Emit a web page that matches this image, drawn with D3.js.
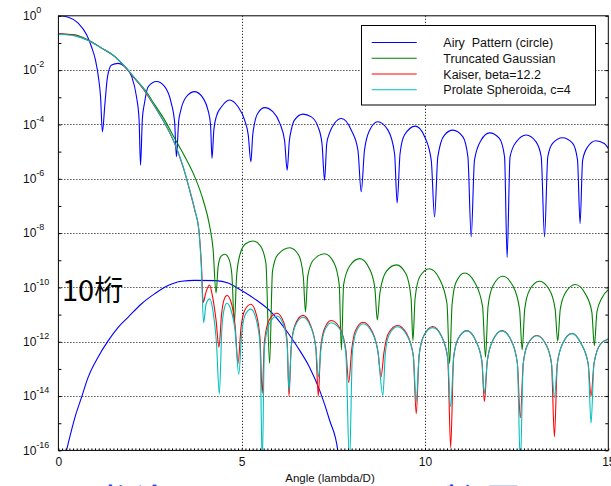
<!DOCTYPE html>
<html><head><meta charset="utf-8">
<script src="https://cdn.jsdelivr.net/npm/d3@7"></script>
<style>html,body{margin:0;padding:0;background:#fff;overflow:hidden}</style>
</head><body>
<script>
// Legend entries and line colours
const seriesNames = ["Airy  Pattern (circle)", "Truncated Gaussian", "Kaiser, beta=12.2", "Prolate Spheroida, c=4"];
const seriesColors = ["#0000ff", "#008000", "#ff0000", "#00bfbf"];
const xTickValues = [0, 5, 10, 15];
const yTickExponents = [0, -2, -4, -6, -8, -10, -12, -14, -16];

// Each point: [angle in lambda/D, log10 of intensity]
const airy = [[0,0],[0.27,-0.05],[0.54,-0.27],[0.77,-0.70],[0.90,-1.13],[1.01,-1.62],[1.09,-2.24],[1.15,-2.98],[1.20,-4.27],[1.27,-3.22],[1.34,-2.24],[1.45,-1.81],[1.63,-1.75],[1.81,-1.87],[2.00,-2.24],[2.13,-2.98],[2.20,-3.8],[2.24,-5.5],[2.29,-3.8],[2.35,-3.2],[2.45,-2.61],[2.68,-2.42],[2.90,-2.61],[3.08,-3.22],[3.17,-3.9],[3.22,-5.19],[3.28,-3.9],[3.34,-3.47],[3.49,-2.98],[3.72,-2.79],[3.95,-3.04],[4.08,-3.47],[4.15,-4.0],[4.19,-5.25],[4.24,-4.2],[4.31,-3.70],[4.45,-3.35],[4.67,-3.10],[4.90,-3.35],[5.08,-3.84],[5.18,-4.4],[5.25,-5.38],[5.30,-4.4],[5.35,-3.96],[5.44,-3.59],[5.63,-3.38],[5.85,-3.53],[6.04,-3.96],[6.17,-4.6],[6.24,-5.68],[6.30,-4.6],[6.35,-4.21],[6.44,-3.84],[6.67,-3.62],[6.90,-3.72],[7.08,-4.08],[7.19,-4.7],[7.26,-6.05],[7.32,-4.7],[7.40,-4.30],[7.53,-3.96],[7.72,-3.78],[7.99,-4.21],[8.17,-4.94],[8.26,-6.48],[8.35,-4.94],[8.49,-4.21],[8.71,-3.90],[8.99,-4.21],[9.17,-5.07],[9.24,-6.89],[9.32,-5.07],[9.44,-4.39],[9.74,-4.06],[9.99,-4.45],[10.17,-5.31],[10.26,-7.41],[10.35,-5.19],[10.53,-4.39],[10.76,-4.21],[11.03,-4.45],[11.17,-5.19],[11.26,-8.14],[11.35,-5.31],[11.53,-4.58],[11.76,-4.31],[12.03,-4.51],[12.17,-5.19],[12.24,-8.9],[12.32,-5.19],[12.49,-4.64],[12.76,-4.39],[13.03,-4.64],[13.17,-5.19],[13.26,-8.14],[13.35,-5.19],[13.48,-4.70],[13.75,-4.49],[14.03,-4.70],[14.16,-5.31],[14.23,-7.65],[14.30,-5.31],[14.44,-4.82],[14.66,-4.60],[14.89,-4.70],[15.0,-4.88]];

// Faint companion, drawn in the same colour as the Airy pattern
const companion = [[0.13,-16.5],[0.22,-16.0],[0.45,-14.79],[0.63,-14.05],[0.81,-13.31],[1.08,-12.57],[1.36,-11.96],[1.63,-11.47],[1.90,-11.10],[2.27,-10.60],[2.63,-10.23],[2.99,-9.93],[3.36,-9.77],[3.72,-9.74],[4.30,-9.75],[4.63,-9.84],[4.95,-10.08],[5.35,-10.42],[5.80,-10.90],[6.25,-11.65],[6.50,-12.15],[6.85,-12.94],[7.13,-13.80],[7.40,-14.90],[7.62,-16.0],[7.66,-16.5]];

const gaussian = [[0,-0.66],[0.45,-0.70],[0.81,-0.89],[1.18,-1.19],[1.54,-1.50],[1.81,-1.87],[2.08,-2.30],[2.36,-2.73],[2.63,-3.28],[2.90,-3.84],[3.17,-4.51],[3.45,-5.19],[3.72,-5.93],[3.95,-6.79],[4.13,-7.77],[4.22,-8.6],[4.30,-10.2],[4.36,-9.2],[4.44,-8.85],[4.54,-8.78],[4.65,-8.95],[4.73,-9.5],[4.80,-11.3],[4.86,-9.6],[4.95,-8.8],[5.10,-8.4],[5.31,-8.29],[5.50,-8.45],[5.66,-9.1],[5.76,-12.8],[5.84,-9.4],[5.98,-8.8],[6.31,-8.54],[6.55,-8.8],[6.68,-9.6],[6.74,-10.9],[6.80,-9.6],[6.95,-9.0],[7.26,-8.76],[7.52,-9.1],[7.66,-9.9],[7.72,-12.3],[7.78,-9.9],[7.95,-9.2],[8.22,-8.94],[8.48,-9.3],[8.63,-10.0],[8.70,-11.2],[8.77,-10.2],[8.95,-9.4],[9.22,-9.17],[9.48,-9.5],[9.62,-10.4],[9.67,-11.96],[9.73,-10.4],[9.86,-9.6],[10.12,-9.31],[10.40,-9.7],[10.60,-10.6],[10.67,-12.8],[10.74,-10.6],[10.85,-9.8],[11.08,-9.47],[11.35,-9.8],[11.57,-10.7],[11.65,-12.57],[11.72,-10.7],[11.85,-9.95],[12.12,-9.59],[12.40,-9.95],[12.58,-10.8],[12.65,-12.3],[12.72,-10.8],[12.85,-10.1],[13.12,-9.77],[13.40,-10.1],[13.55,-10.8],[13.62,-11.98],[13.69,-10.8],[13.83,-10.2],[14.10,-9.89],[14.38,-10.25],[14.55,-10.9],[14.62,-12.14],[14.69,-10.9],[14.82,-10.4],[15.0,-10.08]];

const kaiser = [[0,-0.66],[0.45,-0.72],[0.81,-0.90],[1.18,-1.19],[1.54,-1.50],[1.81,-1.87],[2.08,-2.30],[2.36,-2.78],[2.63,-3.35],[2.90,-3.96],[3.17,-4.70],[3.40,-5.56],[3.58,-6.42],[3.72,-7.16],[3.83,-7.85],[3.90,-9.13],[3.95,-10.55],[4.02,-10.2],[4.12,-9.91],[4.20,-10.3],[4.30,-11.2],[4.38,-12.2],[4.45,-11.0],[4.52,-10.45],[4.60,-10.30],[4.70,-10.5],[4.82,-11.4],[4.90,-12.8],[4.98,-11.5],[5.08,-10.85],[5.25,-10.62],[5.40,-11.0],[5.50,-11.9],[5.56,-13.9],[5.62,-12.0],[5.75,-11.2],[5.96,-10.95],[6.15,-11.3],[6.24,-12.0],[6.29,-14.0],[6.35,-12.2],[6.45,-11.4],[6.67,-11.03],[6.88,-11.4],[7.02,-12.2],[7.09,-14.0],[7.15,-12.3],[7.25,-11.55],[7.44,-11.22],[7.68,-11.5],[7.84,-12.3],[7.92,-13.5],[8.00,-12.3],[8.10,-11.6],[8.31,-11.28],[8.55,-11.6],[8.72,-12.4],[8.80,-13.3],[8.88,-12.4],[9.00,-11.7],[9.25,-11.40],[9.50,-11.7],[9.68,-12.5],[9.76,-14.65],[9.84,-12.5],[9.96,-11.8],[10.21,-11.44],[10.45,-11.8],[10.62,-12.6],[10.70,-15.9],[10.78,-12.6],[10.90,-11.9],[11.14,-11.59],[11.38,-11.95],[11.55,-12.7],[11.62,-14.2],[11.70,-12.7],[11.85,-11.95],[12.10,-11.59],[12.35,-11.95],[12.52,-12.8],[12.60,-14.8],[12.68,-12.8],[12.80,-12.1],[13.05,-11.77],[13.30,-12.1],[13.45,-12.8],[13.53,-15.5],[13.61,-12.8],[13.76,-12.05],[14.01,-11.69],[14.25,-12.05],[14.45,-12.8],[14.53,-14.0],[14.61,-12.8],[14.78,-12.1],[15.0,-11.9]];

const prolate = [[0,-0.68],[0.45,-0.74],[0.81,-0.91],[1.18,-1.19],[1.54,-1.50],[1.81,-1.86],[2.08,-2.28],[2.36,-2.76],[2.63,-3.33],[2.90,-3.95],[3.17,-4.68],[3.40,-5.54],[3.58,-6.40],[3.72,-7.14],[3.83,-7.90],[3.90,-9.3],[3.96,-11.3],[4.03,-10.6],[4.13,-10.42],[4.22,-10.9],[4.31,-12.0],[4.39,-13.93],[4.46,-11.5],[4.53,-10.75],[4.60,-10.58],[4.70,-10.8],[4.82,-11.6],[4.92,-13.2],[5.00,-11.7],[5.10,-11.0],[5.25,-10.80],[5.40,-11.2],[5.50,-12.1],[5.56,-16.5],[5.62,-12.2],[5.75,-11.35],[5.96,-11.05],[6.15,-11.4],[6.24,-12.1],[6.29,-13.8],[6.35,-12.2],[6.45,-11.45],[6.67,-11.1],[6.88,-11.45],[7.02,-12.2],[7.10,-13.3],[7.16,-12.3],[7.26,-11.6],[7.44,-11.3],[7.68,-11.55],[7.84,-12.4],[7.94,-16.5],[8.02,-12.4],[8.12,-11.65],[8.31,-11.34],[8.55,-11.65],[8.72,-12.4],[8.85,-13.98],[8.92,-12.4],[9.02,-11.75],[9.25,-11.45],[9.50,-11.75],[9.68,-12.5],[9.76,-14.2],[9.84,-12.5],[9.96,-11.8],[10.21,-11.48],[10.45,-11.8],[10.62,-12.6],[10.70,-14.4],[10.78,-12.6],[10.90,-11.9],[11.14,-11.6],[11.38,-11.95],[11.55,-12.7],[11.62,-13.9],[11.70,-12.7],[11.85,-11.95],[12.10,-11.6],[12.35,-11.95],[12.52,-12.8],[12.60,-16.5],[12.68,-12.8],[12.80,-12.1],[13.05,-11.78],[13.30,-12.1],[13.45,-12.8],[13.53,-14.05],[13.61,-12.8],[13.76,-12.05],[14.01,-11.7],[14.25,-12.05],[14.45,-12.8],[14.53,-15.0],[14.61,-12.8],[14.78,-12.1],[15.0,-11.9]];

const W = 611, H = 486;
const font = "'Liberation Sans', Arial, sans-serif";
const svg = d3.select("body").append("svg").attr("width", W).attr("height", H)
  .style("font-family", font);

const x = d3.scaleLinear().domain([0, 15]).range([58.4, 608.3]);
const y = d3.scaleLog().domain([1e-16, 1]).range([450.4, 15.8]);
const [x0, x1] = x.range();
const [y0, y1] = y.range();

// Caption below the chart, mostly outside the page
svg.append("text").attr("x", 104).attr("y", 512).attr("font-size", 32).attr("font-weight", "bold")
  .attr("font-family", "'Noto Sans CJK JP', sans-serif").attr("fill", "#2040ff").text("桁違いのコントラストが必要");

svg.append("rect").attr("x", x0).attr("y", y1).attr("width", x1 - x0).attr("height", y0 - y1).attr("fill", "#fff");

// Dotted grid
const grid = svg.append("g").attr("stroke", "#000").attr("stroke-width", 1).attr("stroke-dasharray", "1,2");
grid.selectAll(".gx").data([5, 10]).join("line")
  .attr("x1", d => Math.round(x(d)) + 0.5).attr("x2", d => Math.round(x(d)) + 0.5)
  .attr("y1", y1).attr("y2", y0);
grid.selectAll(".gy").data(yTickExponents.slice(1, -1)).join("line")
  .attr("y1", d => Math.round(y(10 ** d)) + 0.5).attr("y2", d => Math.round(y(10 ** d)) + 0.5)
  .attr("x1", x0).attr("x2", x1);

// Curves
svg.append("clipPath").attr("id", "plotClip").append("rect")
  .attr("x", x0).attr("y", y1).attr("width", x1 - x0).attr("height", y0 - y1);
const line = d3.line().x(d => x(d[0])).y(d => y(10 ** d[1])).curve(d3.curveMonotoneX);
const curves = svg.append("g").attr("clip-path", "url(#plotClip)").attr("fill", "none")
  .attr("stroke-width", 1.1).attr("stroke-linejoin", "round");
[[airy, 0], [companion, 0], [gaussian, 1], [kaiser, 2], [prolate, 3]].forEach(([pts, i]) => {
  curves.append("path").attr("d", line(pts)).attr("stroke", seriesColors[i]);
});

// Axes ticks (inside the frame)
const decades = d3.range(0, -17, -1).map(e => 10 ** e);
svg.append("g").attr("transform", `translate(${x0},0)`)
  .call(d3.axisRight(y).tickValues(decades).tickSize(3).tickFormat(""))
  .call(g => g.select(".domain").remove());
svg.append("g").attr("transform", `translate(${x1},0)`)
  .call(d3.axisLeft(y).tickValues(decades).tickSize(3).tickFormat(""))
  .call(g => g.select(".domain").remove());
svg.append("g").attr("transform", `translate(0,${y0})`)
  .call(d3.axisTop(x).tickValues(d3.range(0, 151).map(i => i / 10)).tickSize(2).tickFormat(""))
  .call(g => g.select(".domain").remove());

// Frame
svg.append("rect").attr("x", x0).attr("y", y1).attr("width", x1 - x0).attr("height", y0 - y1)
  .attr("fill", "none").attr("stroke", "#000").attr("stroke-width", 1);

// X tick labels
svg.append("g").attr("transform", `translate(0,${y0})`)
  .call(d3.axisBottom(x).tickValues(xTickValues).tickSize(0).tickPadding(7).tickFormat(d3.format("d")))
  .call(g => g.select(".domain").remove())
  .call(g => g.selectAll("text").attr("font-size", 12).attr("font-family", font).attr("fill", "#111"));

// Y tick labels as 10 with superscript exponent
const yl = svg.append("g").attr("fill", "#111");
yTickExponents.forEach(e => {
  const t = yl.append("text").attr("x", 23).attr("y", y(10 ** e) + 4.3).attr("font-size", 12);
  t.append("tspan").text("10");
  t.append("tspan").attr("dy", -7).attr("font-size", 9).text(String(e));
});

svg.append("rect").attr("x", 276).attr("y", 472).attr("width", 108).attr("height", 14).attr("fill", "#fff");
svg.append("text").attr("x", 330).attr("y", 482).attr("text-anchor", "middle")
  .attr("font-size", 11.5).attr("fill", "#111").text("Angle (lambda/D)");

// Legend
const lg = svg.append("g");
lg.append("rect").attr("x", 361.5).attr("y", 25.5).attr("width", 234).attr("height", 79.5)
  .attr("fill", "#fff").attr("stroke", "#000").attr("stroke-width", 1);
seriesNames.forEach((name, i) => {
  const ly = 42.5 + i * 15.75;
  lg.append("line").attr("x1", 371.7).attr("x2", 416.7).attr("y1", ly).attr("y2", ly)
    .attr("stroke", seriesColors[i]).attr("stroke-width", 1.2);
  lg.append("text").attr("x", 443.3).attr("y", ly + 4.5).attr("font-size", 12.5)
    .attr("fill", "#111").attr("xml:space", "preserve").style("white-space", "pre").text(name);
});

// Annotation
svg.append("text").attr("x", 62).attr("y", 301).attr("font-size", 29)
  .attr("font-family", "'Noto Sans CJK JP', sans-serif").attr("fill", "#000").text("10桁");
</script>
</body></html>
